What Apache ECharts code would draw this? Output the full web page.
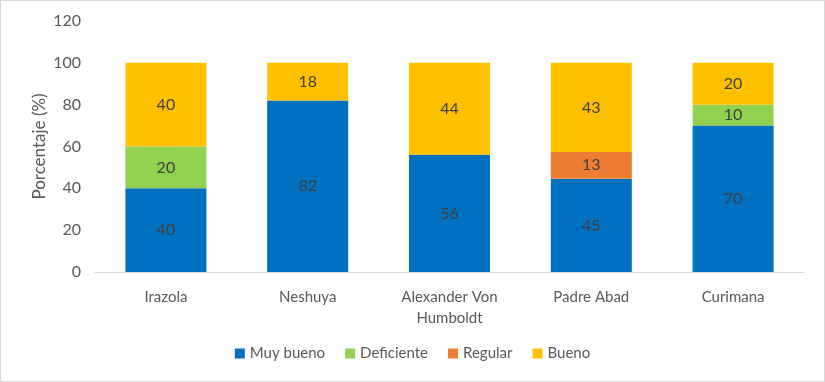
<!DOCTYPE html>
<html><head><meta charset="utf-8">
<script src="https://cdn.jsdelivr.net/npm/echarts@6/dist/echarts.min.js"></script>
<style>html,body{margin:0;padding:0;background:#fff}#c{width:823px;height:380px;border:1px solid #d9d9d9}</style>
</head><body><div id="c"></div>
<script>
const categories = ['Irazola', 'Neshuya', 'Alexander Von\nHumboldt', 'Padre Abad', 'Curimana'];
const muyBueno = [40, 82, 56, 44.6, 70];
const deficiente = [20, 0, 0, 0, 10];
const regular = [0, 0, 0, 12.8, 0];
const bueno = [40, 18, 44, 42.6, 20];
const yTicks = [0, 20, 40, 60, 80, 100, 120];

const font = 'Lato, "Open Sans", sans-serif';
function mk(name, data, color) {
  return {
    name, type: 'bar', stack: 'a', data, barWidth: 81,
    itemStyle: { color },
    label: {
      show: true, position: 'inside', color: '#404040', fontSize: 16, fontFamily: font,
      formatter: p => p.value > 0 ? Math.round(p.value) : ''
    }
  };
}
const chart = echarts.init(document.getElementById('c'));
chart.setOption({
  animation: false,
  textStyle: { fontFamily: font },
  grid: { left: 94, right: 20, top: 20, bottom: 109 },
  legend: {
    bottom: 15, left: 'center', itemWidth: 10, itemHeight: 10, itemGap: 20, icon: 'rect',
    textStyle: { color: '#595959', fontSize: 15, fontFamily: font },
    data: ['Muy bueno', 'Deficiente', 'Regular', 'Bueno']
  },
  xAxis: {
    type: 'category', data: categories,
    axisLine: { lineStyle: { color: '#d9d9d9' } },
    axisTick: { show: false },
    axisLabel: { color: '#595959', fontSize: 15, margin: 15, lineHeight: 21, fontFamily: font }
  },
  yAxis: {
    type: 'value', min: yTicks[0], max: yTicks[yTicks.length - 1], interval: 20,
    name: 'Porcentaje (%)', nameLocation: 'middle', nameGap: 47, nameMoveOverlap: false,
    nameTextStyle: { color: '#595959', fontSize: 17, fontFamily: font },
    axisLine: { show: false }, axisTick: { show: false }, splitLine: { show: false },
    axisLabel: { color: '#595959', fontSize: 16, margin: 14, fontFamily: font }
  },
  series: [
    mk('Muy bueno', muyBueno, '#0070C0'),
    mk('Deficiente', deficiente, '#92D050'),
    mk('Regular', regular, '#ED7D31'),
    mk('Bueno', bueno, '#FFC000')
  ]
});
</script></body></html>
